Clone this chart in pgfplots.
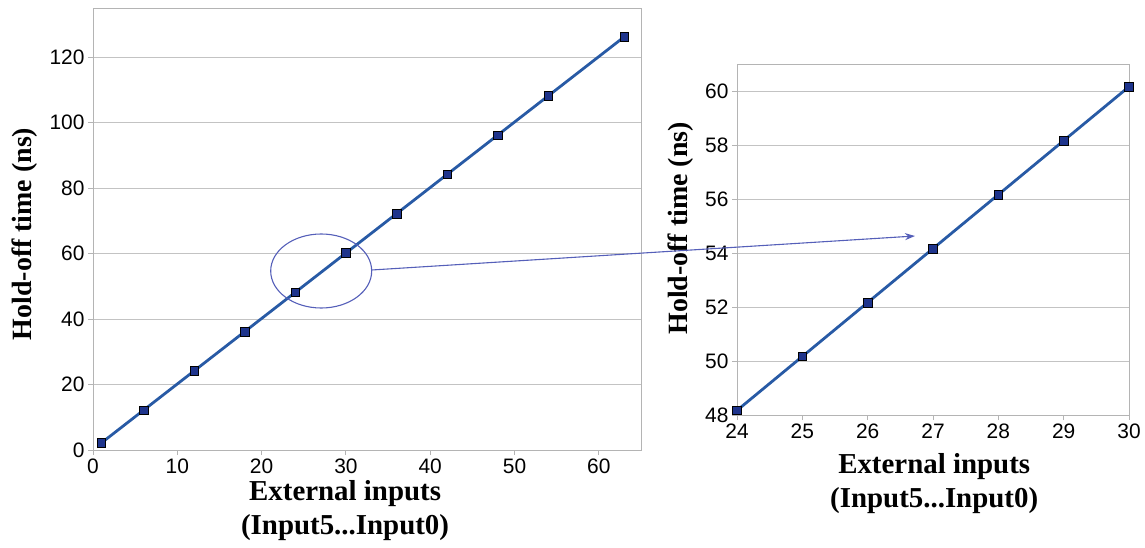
\documentclass[border=0pt]{standalone}
\usepackage{fontspec}
\setmainfont{Liberation Sans}
\newfontfamily\lserif{Liberation Serif}
\usepackage{pgfplots}
\pgfplotsset{compat=1.18}
\usetikzlibrary{arrows.meta}
\definecolor{linec}{RGB}{40,90,165}
\definecolor{markc}{RGB}{30,52,140}
\definecolor{ellc}{RGB}{85,95,185}
\definecolor{gridc}{RGB}{195,195,195}
\definecolor{boxc}{RGB}{180,180,180}

\pgfplotstableread{
x y
1 2.17
6 12.17
12 24.17
18 36.17
24 48.17
30 60.17
36 72.17
42 84.17
48 96.17
54 108.17
63 126.17
}\leftdata
\pgfplotstableread{
x y
24 48.17
25 50.17
26 52.17
27 54.17
28 56.17
29 58.17
30 60.17
}\rightdata

\pgfplotsset{
  mystyle/.style={
    scale only axis,
    ymajorgrids,
    grid style={gridc, line width=0.9bp},
    axis line style={boxc, line width=0.9bp},
    tick style={boxc, line width=0.9bp},
    tick align=outside,
    major tick length=5bp,
    xtick pos=bottom, ytick pos=left,
    ticklabel style={font=\fontsize{21}{21}\selectfont},
    /pgf/number format/assume math mode=true,
    xlabel style={align=center, font=\lserif\bfseries\fontsize{29}{34}\selectfont, inner sep=0pt, anchor=north},
    ylabel style={font=\lserif\bfseries\fontsize{28}{34}\selectfont, inner sep=0pt, anchor=center},
  },
  myplot/.style={color=linec, line width=2.8bp, mark=square*,
      mark size=4.3bp, mark options={fill=markc, draw=black, line width=0.6bp}},
}

\begin{document}
\begin{tikzpicture}[x=1bp,y=1bp]
\useasboundingbox (0,0) rectangle (1145,-548);
\begin{axis}[mystyle,
  at={(93bp,-8bp)}, anchor=north west,
  width=548bp, height=442bp,
  xmin=0, xmax=65, ymin=0, ymax=135,
  xtick={0,10,...,60}, ytick={0,20,...,120},
  xlabel={External inputs\\(Input5...Input0)},
  xlabel style={at={(axis description cs:0.46,0)}, yshift=-30bp},
  ylabel={Hold-off time (ns)},
  ylabel style={at={(axis description cs:-0.124,0.489)}},
]
\addplot[myplot] table[x=x,y=y] {\leftdata};
\end{axis}
\begin{axis}[mystyle,
  at={(737bp,-64.3bp)}, anchor=north west,
  width=392bp, height=350.7bp,
  xmin=24, xmax=30, ymin=48, ymax=61,
  xtick={24,25,...,30}, ytick={48,50,...,60},
  xlabel={External inputs\\(Input5...Input0)},
  xlabel style={at={(axis description cs:0.503,0)}, yshift=-38bp},
  ylabel={Hold-off time (ns)},
  ylabel style={at={(axis description cs:-0.145,0.532)}},
]
\addplot[myplot] table[x=x,y=y] {\rightdata};
\end{axis}
\draw[ellc, line width=1.1bp] (321.2,-271) ellipse [x radius=50.5, y radius=37];
\draw[ellc, line width=1.1bp, -{Stealth[length=10bp,width=7bp]}] (371.7,-270) -- (915,-236);
\end{tikzpicture}
\end{document}
